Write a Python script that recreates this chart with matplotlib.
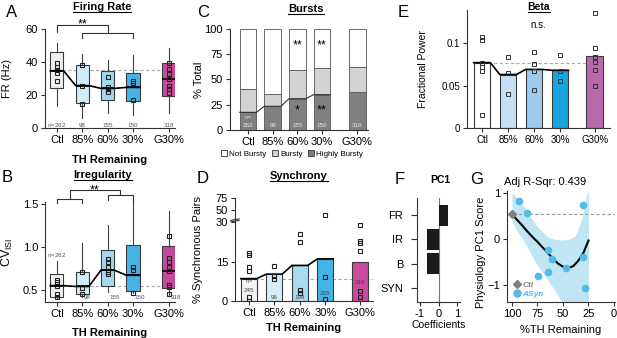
"""Multi-panel physiology summary (firing rate, irregularity, bursts, synchrony, beta, PC1)."""

import matplotlib

matplotlib.use("Agg")
import matplotlib.pyplot as plt
import numpy as np
from matplotlib.lines import Line2D

plt.rcParams["font.family"] = ["Liberation Sans", "DejaVu Sans"]
plt.rcParams["mathtext.fontset"] = "custom"
plt.rcParams["mathtext.rm"] = "Liberation Sans"
plt.rcParams["mathtext.it"] = "Liberation Sans:italic"

W, H = 617, 338

GROUPS = ["Ctl", "85%", "60%", "30%", "G30%"]
POS = [0, 1, 2, 3, 4.42]

# A: firing rate boxes
FR_MED = [34.7, 25.7, 24.0, 24.6, 29.7]
FR_Q1 = [24.0, 15.4, 17.0, 16.6, 19.4]
FR_Q3 = [45.9, 38.2, 34.5, 33.1, 39.6]
FR_LO = [13.3, 5.9, 8.9, 7.9, 9.0]
FR_HI = [51.7, 44.8, 41.2, 44.2, 48.3]
FR_DOTS = [
    [39.6, 37.2, 35.2, 33.5, 28.7],
    [38.2, 25.7, 14.3],
    [30.7, 25.0, 23.4, 21.6],
    [28.7, 27.1, 17.0],
    [39.6, 35.6, 32.7, 29.7, 25.5, 23.4, 21.4],
]
FR_N = ["262", "98", "155", "150", "318"]
FR_CTL_LINE = 35

# B: CV ISI boxes
CV_MED = [0.55, 0.54, 0.73, 0.67, 0.72]
CV_Q1 = [0.42, 0.45, 0.55, 0.49, 0.52]
CV_Q3 = [0.68, 0.71, 0.965, 1.02, 1.01]
CV_LO = [0.40, 0.42, 0.48, 0.46, 0.44]
CV_HI = [0.83, 1.05, 1.255, 1.50, 1.41]
CV_DOTS = [
    [0.62, 0.59, 0.55, 0.45, 0.42],
    [0.71, 0.52, 0.45],
    [0.86, 0.82, 0.77, 0.71, 0.68],
    [0.77, 0.73, 0.47],
    [1.13, 0.87, 0.82, 0.77, 0.72, 0.56, 0.53, 0.45],
]
CV_N = ["262", "98", "155", "150", "318"]
CV_CTL_LINE = 0.545

# C: burst categories (% of cells)
HIGHLY_BURSTY = [17.5, 23.5, 31, 35, 37.5]
BURSTY = [23, 12.5, 28, 26, 25]
BURST_N = ["262", "98", "155", "150", "318"]

# D: synchrony
SYNC = [8.5, 10.2, 13.5, 16, 15]
SYNC_DOTS = [
    [18.3, 17.3, 12.8, 11.5, 1.7, 0.0],
    [13.4, 9.5, 8.2],
    [25.4, 22.3, 4.3, 3.0],
    [41.7, 9.1, 0.8],
    [28.7, 22.6, 21.9, 18.9, 3.7, 1.4],
]
SYNC_N = ["245", "96", "199", "235", "316"]

# E: beta power
BETA = [0.077, 0.063, 0.069, 0.068, 0.085]
BETA_DOTS = [
    [0.107, 0.104, 0.077, 0.072, 0.067, 0.015],
    [0.084, 0.065, 0.040],
    [0.090, 0.075, 0.067, 0.045],
    [0.086, 0.067, 0.055],
    [0.136, 0.094, 0.084, 0.078, 0.068, 0.049],
]

# F: PC1 coefficients
PC1_VARS = ["FR", "IR", "B", "SYN"]
PC1_COEF = [0.53, -0.63, -0.63, 0.0]

# G: PC1 score vs TH remaining
ASYN_TH = [93.3, 85.3, 30.5, 64.4, 61.2, 46.8, 64.4, 74.7, 30.5, 28.2]
ASYN_PC1 = [0.83, 0.56, 0.74, -0.24, -0.44, -0.62, -0.71, -0.80, -0.39, -1.06]
CTL_TH, CTL_PC1, CTL_ERR = 100, 0.55, 0.08
FIT_TH = [100, 95, 90, 85, 80, 75, 70, 65, 60, 55, 50, 45, 40, 35, 30, 25]
FIT_PC1 = [0.55, 0.42, 0.30, 0.17, 0.05, -0.06, -0.18, -0.30, -0.42, -0.53, -0.60, -0.63, -0.59, -0.47, -0.30, -0.03]
BAND_TH = [100, 95, 87, 80, 75, 65, 57, 50, 44, 38, 32, 27, 25]
BAND_HI = [1.0, 0.90, 0.67, 0.42, 0.27, 0.05, -0.01, -0.02, 0.0, 0.07, 0.41, 0.95, 1.05]
BAND_LO = [0.38, 0.18, -0.09, -0.38, -0.57, -0.89, -1.15, -1.42, -1.6, -1.7, -1.8, -1.9, -2.0]
R2 = 0.439

BOX_COLORS = ["#f0f0f0", "#d2ebf8", "#a2d8f2", "#47b3e5", "#c64a9b"]
SYNC_COLORS = ["#f4f4f4", "#d6eefa", "#a7dbf3", "#44b3e6", "#cc4a9e"]
BETA_COLORS = ["#ffffff", "#c4e1f4", "#9ccbec", "#16a5df", "#b868ab"]
EDGE = "#3a3a3a"

fig = plt.figure(figsize=(W / 100, H / 100), dpi=100)
titles = []


def px_ax(left, top, right, bottom):
    return fig.add_axes([left / W, 1 - bottom / H, (right - left) / W, (bottom - top) / H])


def style(ax, fs=8):
    for s in ("top", "right"):
        ax.spines[s].set_visible(False)
    for s in ("left", "bottom"):
        ax.spines[s].set_linewidth(0.8)
        ax.spines[s].set_color("#333333")
    ax.tick_params(labelsize=fs, length=3, width=0.8, pad=2, color="#333333")


def title(x, y, s, fs=8):
    t = fig.text(x / W, 1 - y / H, s, ha="center", va="center", fontsize=fs, fontweight="bold")
    titles.append(t)


def letter(x, y, s):
    fig.text(x / W, 1 - y / H, s, ha="left", va="top", fontsize=12)


def step_line(ax, xs, ys, w, **kw):
    px, py = [], []
    for x, y in zip(xs, ys):
        px += [x - w / 2, x + w / 2]
        py += [y, y]
    ax.plot(px, py, **kw)


def boxes(ax, med, q1, q3, lo, hi, dots, w=0.52):
    stats = [
        dict(med=m, q1=a, q3=b, whislo=l, whishi=h, fliers=[])
        for m, a, b, l, h in zip(med, q1, q3, lo, hi)
    ]
    bp = ax.bxp(stats, positions=POS, widths=w, patch_artist=True, showcaps=False,
                boxprops=dict(linewidth=0.8, edgecolor=EDGE),
                whiskerprops=dict(linewidth=0.8, color="#444444"),
                medianprops=dict(linewidth=1.2, color="black"), zorder=3)
    for patch, c in zip(bp["boxes"], BOX_COLORS):
        patch.set_facecolor(c)
    for p, d in zip(POS, dots):
        ax.plot([p] * len(d), d, "s", ms=2.8, mfc="none", mec="#222222", mew=0.8, zorder=4)
    step_line(ax, POS[:4], med[:4], w, color="black", lw=1.2, zorder=5)
    ax.set_xticks(POS, GROUPS)


# ---------------- A: firing rate ----------------
axA = px_ax(45, 29, 175, 128)
style(axA)
axA.axhline(FR_CTL_LINE, xmin=0.05, xmax=0.95, ls=(0, (3, 2)), color="#aaaaaa", lw=0.8, zorder=1)
boxes(axA, FR_MED, FR_Q1, FR_Q3, FR_LO, FR_HI, FR_DOTS)
axA.set_xlim(-0.47, 4.66)
axA.set_ylim(0, 60)
axA.set_yticks([0, 20, 40, 60])
axA.set_ylabel("FR (Hz)", fontsize=8)
axA.yaxis.set_label_coords(-0.25, 0.5)
axA.set_xlabel("TH Remaining", fontsize=8, fontweight="bold")
axA.xaxis.set_label_coords(0.5, -0.27)
for i, (p, n) in enumerate(zip(POS, FR_N)):
    lab = r"$\it{n}$=" + n if i == 0 else n
    axA.text(p, 1.8, lab, ha="center", va="center", fontsize=4.5, color="#555555")
bk = dict(color="#333333", lw=0.8, clip_on=False)
axA.plot([0, 0, 2, 2], [58.4, 62.4, 62.4, 57.4], **bk)
axA.plot([1, 1, 3, 3], [54.4, 57.4, 57.4, 54.4], **bk)
axA.text(1, 63.0, "**", ha="center", va="center", fontsize=9, clip_on=False)
title(102, 7, "Firing Rate")
letter(6, 5, "A")

# ---------------- B: irregularity ----------------
axB = px_ax(45, 202, 175, 302)
style(axB)
axB.axhline(CV_CTL_LINE, xmin=0.05, xmax=0.97, ls=(0, (3, 2)), color="#aaaaaa", lw=0.8, zorder=1)
boxes(axB, CV_MED, CV_Q1, CV_Q3, CV_LO, CV_HI, CV_DOTS)
axB.set_xlim(-0.47, 4.66)
axB.set_ylim(0.36, 1.52)
axB.set_yticks([0.5, 1.0, 1.5])
axB.set_ylabel(r"CV$_{\mathrm{ISI}}$", fontsize=9)
axB.yaxis.set_label_coords(-0.23, 0.5)
axB.set_xlabel("TH Remaining", fontsize=8, fontweight="bold")
axB.xaxis.set_label_coords(0.5, -0.255)
axB.text(POS[0], 0.905, r"$\it{n}$=" + CV_N[0], ha="center", va="center", fontsize=4.5, color="#555555")
for p, n in zip(POS[1:], CV_N[1:]):
    axB.text(p + 0.06, 0.415, n, ha="left", va="center", fontsize=4.5, color="#555555")
axB.plot([0, 0, 1, 1], [1.508, 1.558, 1.558, 1.508], **bk)
axB.plot([2, 2, 3, 3], [1.547, 1.605, 1.605, 1.50], **bk)
axB.plot([0.5, 0.5, 2.5, 2.5], [1.558, 1.663, 1.663, 1.605], **bk)
axB.text(1.5, 1.655, "**", ha="center", va="center", fontsize=9, clip_on=False)
title(103, 175, "Irregularity")
letter(2, 170, "B")

# ---------------- C: bursts ----------------
axC = px_ax(230, 29, 368, 130)
style(axC)
wC = 0.68
not_bursty = [100 - a - b for a, b in zip(HIGHLY_BURSTY, BURSTY)]
axC.bar(POS, HIGHLY_BURSTY, wC, color="#808080", edgecolor="#555555", lw=0.6, zorder=2)
axC.bar(POS, BURSTY, wC, bottom=HIGHLY_BURSTY, color="#d3d3d3", edgecolor="#555555", lw=0.6, zorder=2)
axC.bar(POS, not_bursty, wC, bottom=np.add(HIGHLY_BURSTY, BURSTY), color="white",
        edgecolor="#555555", lw=0.6, zorder=2)
step_line(axC, POS[:4], HIGHLY_BURSTY[:4], wC, color="#333333", lw=0.8, zorder=3)
axC.set_xlim(-0.73, 4.86)
axC.set_ylim(0, 100)
axC.set_yticks([0, 25, 50, 75, 100])
axC.set_xticks(POS, GROUPS)
axC.set_ylabel("% Total", fontsize=8)
axC.yaxis.set_label_coords(-0.19, 0.5)
axC.text(POS[0], 12.5, r"$\it{n}$=", ha="center", va="center", fontsize=4, color="#e6e6e6", zorder=4)
for p, n in zip(POS, BURST_N):
    axC.text(p, 4, n, ha="center", va="center", fontsize=4.5, color="#e6e6e6", zorder=4)
for p, y, s in [(2, 84, "**"), (2, 19, "*"), (3, 84, "**"), (3, 19, "**")]:
    axC.text(p, y, s, ha="center", va="center", fontsize=9, zorder=4)
handles = [
    Line2D([], [], ls="none", marker="s", ms=4.4, mfc=c, mec="#333333", mew=0.6)
    for c in ["white", "#d3d3d3", "#808080"]
]
fig.legend(handles, ["Not Bursty", "Bursty", "Highly Bursty"], loc="center",
           bbox_to_anchor=(292 / W, 1 - 154 / H), ncol=3, frameon=False, fontsize=5.8,
           handlelength=0.7, handletextpad=0.3, columnspacing=0.7, borderpad=0)
title(306, 9, "Bursts")
letter(197, 5, "C")

# ---------------- D: synchrony (broken y axis) ----------------
def d_fwd(v):
    v = np.asarray(v, float)
    return np.where(v <= 30, v, np.where(v <= 50, 30 + (v - 30) * 0.228, 34.56 + (v - 50) * 0.1824))


def d_inv(u):
    u = np.asarray(u, float)
    return np.where(u <= 30, u, np.where(u <= 34.56, 30 + (u - 30) / 0.228, 50 + (u - 34.56) / 0.1824))


axD = px_ax(235, 198, 373, 301)
style(axD)
axD.set_yscale("function", functions=(d_fwd, d_inv))
POS_D = [0, 1, 2, 3, 4.35]
wD = 0.62
axD.axhline(SYNC[0], xmin=0.1, xmax=1.0, ls=(0, (3, 2)), color="#aaaaaa", lw=0.8, zorder=1)
axD.bar(POS_D, SYNC, wD, color=SYNC_COLORS, edgecolor=EDGE, lw=0.8, zorder=2)
step_line(axD, POS_D[:4], SYNC[:4], wD, color="black", lw=1.2, zorder=3)
for p, d in zip(POS_D, SYNC_DOTS):
    axD.plot([p] * len(d), d, "s", ms=2.8, mfc="none", mec="#222222", mew=0.8, zorder=4)
axD.set_xlim(-0.54, 4.87)
axD.set_ylim(0, 75)
axD.set_yticks([0, 15, 30, 50, 75])
axD.set_xticks(POS_D, GROUPS)
axD.set_ylabel("% Synchronous Pairs", fontsize=8)
axD.yaxis.set_label_coords(-0.23, 0.5)
axD.set_xlabel("TH Remaining", fontsize=8, fontweight="bold")
axD.xaxis.set_label_coords(0.5, -0.21)
axD.text(POS_D[0], 7.4, r"$\it{n}$=", ha="center", va="center", fontsize=4, color="#555555", zorder=4)
for p, n, y in zip(POS_D, SYNC_N, [3.9, 1.3, 1.3, 3.0, 7.0]):
    axD.text(p, y, n, ha="center", va="center", fontsize=4.5, color="#444444", zorder=4)
yt = axD.get_yaxis_transform()
for y0 in (31.5, 34):
    axD.plot([-0.03, 0.03], [y0 - 1.2, y0 + 1.2], transform=yt, color="#333333", lw=0.8, clip_on=False)
title(299, 176, "Synchrony")
letter(197, 171, "D")

# ---------------- E: beta ----------------
axE = px_ax(467, 10, 610, 128)
style(axE, fs=7)
POS_E = [0, 1, 2, 3, 4.33]
wE = 0.64
axE.axhline(BETA[0], xmin=0.15, xmax=0.95, ls=(0, (3, 2)), color="#aaaaaa", lw=0.8, zorder=1)
axE.bar(POS_E, BETA, wE, color=BETA_COLORS, edgecolor=EDGE, lw=0.8, zorder=2)
step_line(axE, POS_E[:4], BETA[:4], wE, color="black", lw=1.2, zorder=3)
for p, d in zip(POS_E, BETA_DOTS):
    axE.plot([p] * len(d), d, "s", ms=2.6, mfc="none", mec="#333333", mew=0.7, zorder=4)
axE.set_xlim(-0.58, 4.92)
axE.set_ylim(0, 0.139)
axE.set_yticks([0, 0.05, 0.1], ["0", "0.05", "0.1"])
axE.set_xticks(POS_E, GROUPS)
axE.set_ylabel("Fractional Power", fontsize=7.5)
axE.yaxis.set_label_coords(-0.27, 0.5)
axE.text(2.15, 0.121, "n.s.", ha="center", va="center", fontsize=7)
title(539, 7, "Beta", fs=7.5)
letter(398, 5, "E")

# ---------------- F: PC1 coefficients ----------------
axF = px_ax(417, 198, 460, 302)
style(axF)
axF.barh(range(len(PC1_VARS)), PC1_COEF, height=0.86, color="#1a1a1a", zorder=2)
axF.axvline(0, color="#777777", lw=0.8, zorder=1)
axF.set_yticks(range(len(PC1_VARS)), PC1_VARS)
axF.tick_params(axis="y", length=4, pad=6)
axF.set_ylim(3.57, -0.7)
axF.set_xlim(-1.15, 1.15)
axF.set_xticks([-1, 0, 1], ["-1", "0", "1"])
axF.set_xlabel("Coefficients", fontsize=7.5, labelpad=1)
title(440, 180, "PC1", fs=7.5)
titles.pop()
letter(395, 172, "F")

# ---------------- G: PC1 vs TH ----------------
axG = px_ax(507, 191, 615, 302)
style(axG, fs=8)
axG.fill_between(BAND_TH, BAND_LO, BAND_HI, color="#c0e6f6", lw=0, zorder=1)
axG.axhline(CTL_PC1, ls=(0, (3, 2)), color="#999999", lw=0.8, zorder=2)
axG.plot(FIT_TH, FIT_PC1, color="black", lw=1.5, zorder=3)
axG.plot(ASYN_TH, ASYN_PC1, "o", ms=5.5, color="#53bbe8", mec="none", zorder=4)
axG.errorbar([CTL_TH], [CTL_PC1], yerr=[CTL_ERR], fmt="D", ms=4.5, color="#808080",
             elinewidth=0.8, capsize=0, zorder=5)
axG.set_xlim(104.9, -1)
axG.set_ylim(-1.37, 1.05)
axG.set_xticks([100, 75, 50, 25, 0])
axG.set_yticks([-1, 0, 1])
axG.set_ylabel("Physiology PC1 Score", fontsize=8)
axG.yaxis.set_label_coords(-0.19, 0.45)
axG.set_xlabel("%TH Remaining", fontsize=8)
axG.xaxis.set_label_coords(0.5, -0.21)
axG.set_title(f"Adj R-Sqr: {R2:.3f}", fontsize=8, pad=4, x=0.35)
lg_handles = [
    Line2D([], [], ls="none", marker="D", ms=4, color="#808080"),
    Line2D([], [], ls="none", marker="o", ms=5, color="#53bbe8"),
]
leg = axG.legend(lg_handles, ["Ctl", "ASyn"], loc="lower left", bbox_to_anchor=(0.02, -0.02),
                 frameon=False, fontsize=6, handlelength=0.6, handletextpad=0.3,
                 labelspacing=0.2, borderpad=0.2)
for txt, c in zip(leg.get_texts(), ["#808080", "#53bbe8"]):
    txt.set_color(c)
    txt.set_fontstyle("italic")
    txt.set_fontweight("bold")
letter(470, 172, "G")

# underline the panel titles
fig.canvas.draw()
renderer = fig.canvas.get_renderer()
for t in titles:
    bb = t.get_window_extent(renderer)
    fig.add_artist(Line2D([bb.x0 / W, bb.x1 / W], [(bb.y0 + 0.5) / H] * 2,
                          transform=fig.transFigure, color="black", lw=0.8))

fig.savefig("out.png", dpi=100)
